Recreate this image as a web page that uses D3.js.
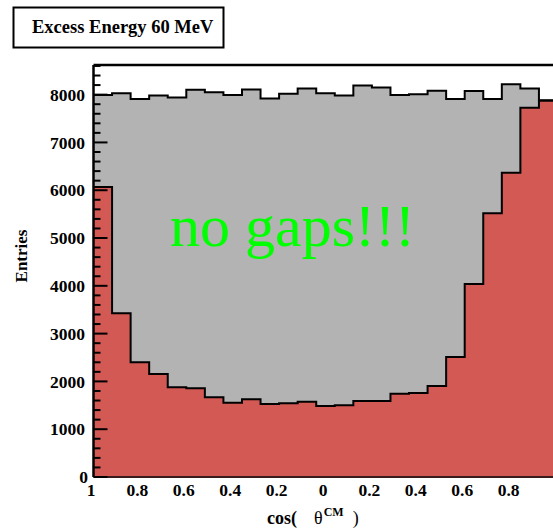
<!DOCTYPE html>
<html>
<head>
<meta charset="utf-8">
<script src="https://cdn.jsdelivr.net/npm/d3@7"></script>
<style>
  html, body { margin: 0; padding: 0; background: #fff; overflow: hidden; }
  svg { display: block; }
</style>
</head>
<body>
<svg id="chart" width="553" height="528"></svg>
<script>
// cos(theta_CM) binning: 25 bins from -1 to 1
const binCount = 25;
const xMin = -1, xMax = 1;

// Total (all events), per bin
const totalCounts = [7990, 8030, 7910, 7980, 7940, 8100, 8050, 7990, 8110, 7920,
                     8020, 8130, 8030, 7980, 8190, 8150, 7990, 8010, 8080, 7910,
                     8075, 7910, 8215, 8130, 7880];
// Detected subset, per bin
const detectedCounts = [6070, 3425, 2400, 2155, 1877, 1855, 1667, 1555, 1625, 1525,
                        1545, 1575, 1485, 1500, 1590, 1590, 1740, 1760, 1905, 2510,
                        4040, 5517, 6366, 7726, 7872];

const xTickValues = [-1, -0.8, -0.6, -0.4, -0.2, 0, 0.2, 0.4, 0.6, 0.8];
const xTickLabels = ["1", "0.8", "0.6", "0.4", "0.2", "0", "0.2", "0.4", "0.6", "0.8"];
const yTickValues = [0, 1000, 2000, 3000, 4000, 5000, 6000, 7000, 8000];
const yMax = 8620;

const titleText = "Excess Energy 60 MeV";
const noteText = "no gaps!!!";

const svg = d3.select("#chart");
const serif = "'Liberation Serif', 'Times New Roman', serif";

const x = d3.scaleLinear().domain([xMin, xMax]).range([93.5, 557.5]);
const y = d3.scaleLinear().domain([0, yMax]).range([477, 65]);

const binWidth = (xMax - xMin) / binCount;
function binPoints(counts) {
  const pts = counts.map((c, i) => ({ x: xMin + i * binWidth, v: c }));
  pts.push({ x: xMax, v: counts[counts.length - 1] });
  return pts;
}

const area = d3.area()
  .x(d => x(d.x))
  .y0(y(0))
  .y1(d => y(d.v))
  .curve(d3.curveStepAfter);

const line = d3.line()
  .x(d => x(d.x))
  .y(d => y(d.v))
  .curve(d3.curveStepAfter);

// Total histogram (grey)
const totalPts = binPoints(totalCounts);
svg.append("path").attr("d", area(totalPts)).attr("fill", "#b3b3b3");
svg.append("path").attr("d", line(totalPts))
  .attr("fill", "none").attr("stroke", "#000").attr("stroke-width", 2);

// Detected histogram (red)
const detPts = binPoints(detectedCounts);
svg.append("path").attr("d", area(detPts)).attr("fill", "#d35955");
svg.append("path").attr("d", line(detPts))
  .attr("fill", "none").attr("stroke", "#000").attr("stroke-width", 2);

// Frame: top line, left axis, bottom axis
svg.append("line").attr("x1", x(xMin)).attr("x2", 553).attr("y1", y(yMax)).attr("y2", y(yMax))
  .attr("stroke", "#000").attr("stroke-width", 2.5);
svg.append("line").attr("x1", x(xMin)).attr("x2", x(xMin)).attr("y1", y(yMax)).attr("y2", y(0))
  .attr("stroke", "#000").attr("stroke-width", 2.5);
svg.append("line").attr("x1", x(xMin)).attr("x2", 553).attr("y1", y(0)).attr("y2", y(0))
  .attr("stroke", "#3a1a1a").attr("stroke-width", 2);

// Y ticks: majors every 1000, minors every 200, drawn inside the frame
const yMinor = d3.range(0, yMax + 1, 200).filter(v => v % 1000 !== 0);
const ticks = svg.append("g");
ticks.selectAll("line.minor").data(yMinor).join("line")
  .attr("x1", x(xMin)).attr("x2", x(xMin) + 7)
  .attr("y1", d => y(d)).attr("y2", d => y(d))
  .attr("stroke", "#000").attr("stroke-width", 2);
ticks.selectAll("line.major").data(yTickValues).join("line")
  .attr("x1", x(xMin)).attr("x2", x(xMin) + 14)
  .attr("y1", d => y(d)).attr("y2", d => y(d))
  .attr("stroke", "#000").attr("stroke-width", 2);

// Y tick labels
svg.append("g").selectAll("text").data(yTickValues).join("text")
  .attr("x", d => d === 0 ? 88 : 85)
  .attr("y", d => y(d))
  .attr("dy", "0.35em")
  .attr("text-anchor", "end")
  .attr("font-family", serif).attr("font-weight", "bold").attr("font-size", 17.5)
  .text(d => d);

// X tick labels
svg.append("g").selectAll("text").data(xTickValues).join("text")
  .attr("x", d => x(d) - 2.5)
  .attr("y", 496)
  .attr("text-anchor", "middle")
  .attr("font-family", serif).attr("font-weight", "bold").attr("font-size", 17.5)
  .text((d, i) => xTickLabels[i]);

// Axis titles
svg.append("text")
  .attr("transform", "translate(27,256) rotate(-90)")
  .attr("text-anchor", "middle")
  .attr("font-family", serif).attr("font-weight", "bold").attr("font-size", 17)
  .text("Entries");

const xt = svg.append("text")
  .attr("x", 267).attr("y", 524)
  .attr("font-family", serif).attr("font-size", 18);
xt.append("tspan").attr("font-weight", "bold").text("cos(");
xt.append("tspan").attr("dx", 17).text("θ");
xt.append("tspan").attr("font-weight", "bold").attr("font-size", 12).attr("dy", -8).attr("dx", 1).text("CM");
xt.append("tspan").attr("dy", 8).attr("dx", 9).text(")");

// Title box
svg.append("rect").attr("x", 13.5).attr("y", 7.5).attr("width", 210).attr("height", 40)
  .attr("fill", "#fff").attr("stroke", "#000").attr("stroke-width", 2);
svg.append("text")
  .attr("x", 32).attr("y", 33)
  .attr("font-family", serif).attr("font-weight", "bold").attr("font-size", 18.5)
  .text(titleText);

// Annotation
svg.append("text")
  .attr("x", 170).attr("y", 246)
  .attr("font-family", serif).attr("font-size", 60)
  .attr("fill", "#00ff00")
  .text(noteText);
</script>
</body>
</html>
